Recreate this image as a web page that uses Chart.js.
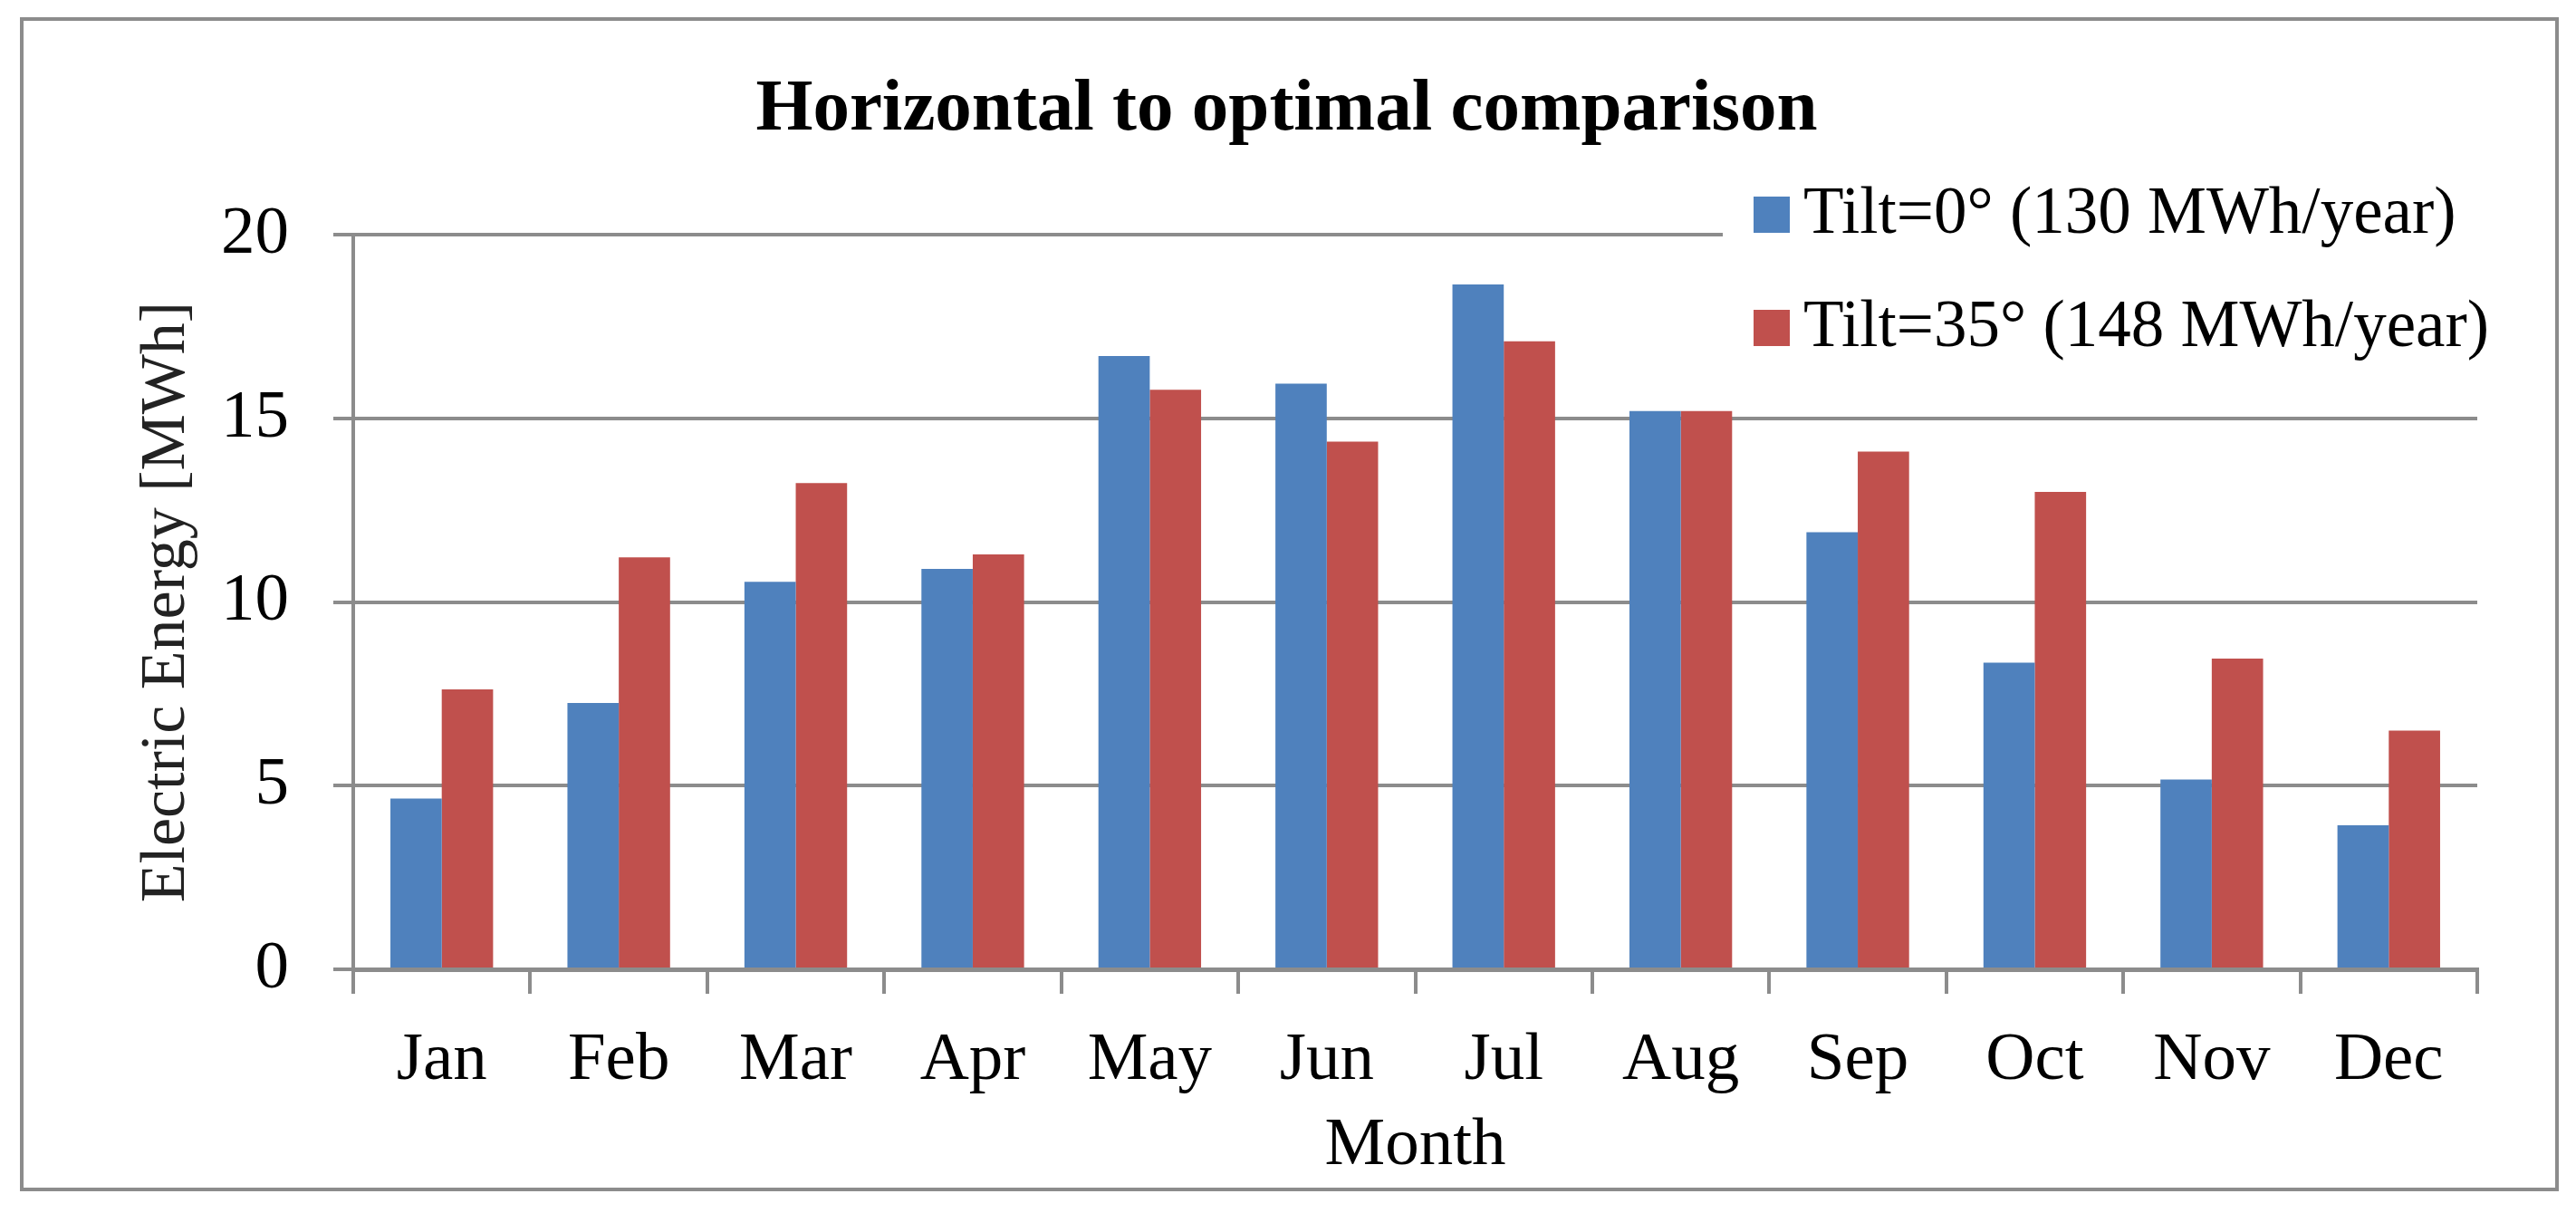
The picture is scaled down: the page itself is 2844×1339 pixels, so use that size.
<!DOCTYPE html>
<html>
<head>
<meta charset="utf-8">
<title>Horizontal to optimal comparison</title>
<script src="https://cdn.jsdelivr.net/npm/chart.js@4.4.1/dist/chart.umd.min.js"></script>
<style>
  html, body { margin: 0; padding: 0; background: #fff; }
  #wrap { width: 2844px; height: 1339px; }
</style>
</head>
<body>
<div id="wrap"><canvas id="chart" width="2844" height="1339"></canvas></div>
<script>
// Months on the x axis
const months = ["Jan", "Feb", "Mar", "Apr", "May", "Jun", "Jul", "Aug", "Sep", "Oct", "Nov", "Dec"];

// Monthly electric energy [MWh]
const tilt0 = [4.65, 7.25, 10.55, 10.9, 16.7, 15.95, 18.65, 15.2, 11.9, 8.35, 5.17, 3.92];
const tilt35 = [7.62, 11.22, 13.24, 11.3, 15.78, 14.37, 17.1, 15.2, 14.1, 13.0, 8.46, 6.5];

// Series names and colours
const seriesLabels = ["Tilt=0° (130 MWh/year)", "Tilt=35° (148 MWh/year)"];
const seriesColors = ["#4F81BD", "#C0504D"];

// Y axis tick values
const yTicks = [0, 5, 10, 15, 20];

const axisGray = "#8c8c8c";
Chart.defaults.font.family = "'Liberation Serif', serif";

// White page with the grey frame round the whole chart
const framePlugin = {
  id: "frame",
  beforeDraw(chart) {
    const ctx = chart.ctx;
    ctx.save();
    ctx.fillStyle = "#fff";
    ctx.fillRect(0, 0, chart.width, chart.height);
    ctx.restore();
  },
  afterDraw(chart) {
    const ctx = chart.ctx;
    ctx.save();
    ctx.strokeStyle = axisGray;
    ctx.lineWidth = 4;
    ctx.strokeRect(24, 21, 2799, 1292);
    ctx.restore();
  }
};

// Legend sits over the top right of the plot, on a white box
const boxLegend = {
  id: "boxLegend",
  afterDatasetsDraw(chart) {
    const ctx = chart.ctx;
    ctx.save();
    ctx.fillStyle = "#fff";
    ctx.fillRect(1902, 200, 860, 200);
    ctx.font = "73px 'Liberation Serif'";
    ctx.textBaseline = "alphabetic";
    chart.data.datasets.forEach((ds, i) => {
      const y = 217 + i * 125;
      ctx.fillStyle = ds.backgroundColor;
      ctx.fillRect(1936, y, 40, 40);
      ctx.fillStyle = "#000";
      ctx.fillText(ds.label, 1991, y + 40);
    });
    ctx.restore();
  }
};

const ctx = document.getElementById("chart").getContext("2d");
new Chart(ctx, {
  type: "bar",
  data: {
    labels: months,
    datasets: [
      {
        label: seriesLabels[0],
        data: tilt0,
        backgroundColor: seriesColors[0],
        categoryPercentage: 0.58,
        barPercentage: 1.0,
      },
      {
        label: seriesLabels[1],
        data: tilt35,
        backgroundColor: seriesColors[1],
        categoryPercentage: 0.58,
        barPercentage: 1.0,
      },
    ],
  },
  options: {
    responsive: false,
    animation: false,
    devicePixelRatio: 1,
    // left padding keeps the title centred on the page
    layout: { padding: { left: 106, right: 109, top: 0, bottom: 0 } },
    plugins: {
      legend: { display: false },
      tooltip: { enabled: false },
      title: {
        display: true,
        text: "Horizontal to optimal comparison",
        color: "#000",
        font: { size: 81, weight: "bold", lineHeight: 1.2 },
        padding: { top: 73, bottom: 89 },
      },
    },
    scales: {
      x: {
        grid: {
          display: true,
          drawOnChartArea: false,
          drawTicks: true,
          tickLength: 27,
          color: axisGray,
          lineWidth: 4,
          offset: true,
        },
        border: { display: true, color: axisGray, width: 5 },
        ticks: { color: "#000", font: { size: 75 }, padding: 29, maxRotation: 0, autoSkip: false },
        title: {
          display: true,
          text: "Month",
          color: "#000",
          font: { size: 75, lineHeight: 1.2 },
          padding: { top: 0, bottom: 29 },
        },
        afterFit(scale) {
          scale.height = 269;
        },
      },
      y: {
        min: yTicks[0],
        max: yTicks[yTicks.length - 1],
        afterBuildTicks(scale) {
          scale.ticks = yTicks.map((v) => ({ value: v }));
        },
        grid: { color: axisGray, lineWidth: 4, tickLength: 22, drawTicks: true },
        border: { display: true, color: axisGray, width: 4 },
        ticks: { color: "#000", font: { size: 75 }, padding: 49 },
        title: {
          display: true,
          text: "Electric Energy [MWh]",
          color: "#222",
          font: { size: 70, lineHeight: 1.2 },
          padding: { top: 37, bottom: 0 },
        },
        afterFit(scale) {
          scale.width = 284;
        },
      },
    },
  },
  plugins: [framePlugin, boxLegend],
});
</script>
</body>
</html>
